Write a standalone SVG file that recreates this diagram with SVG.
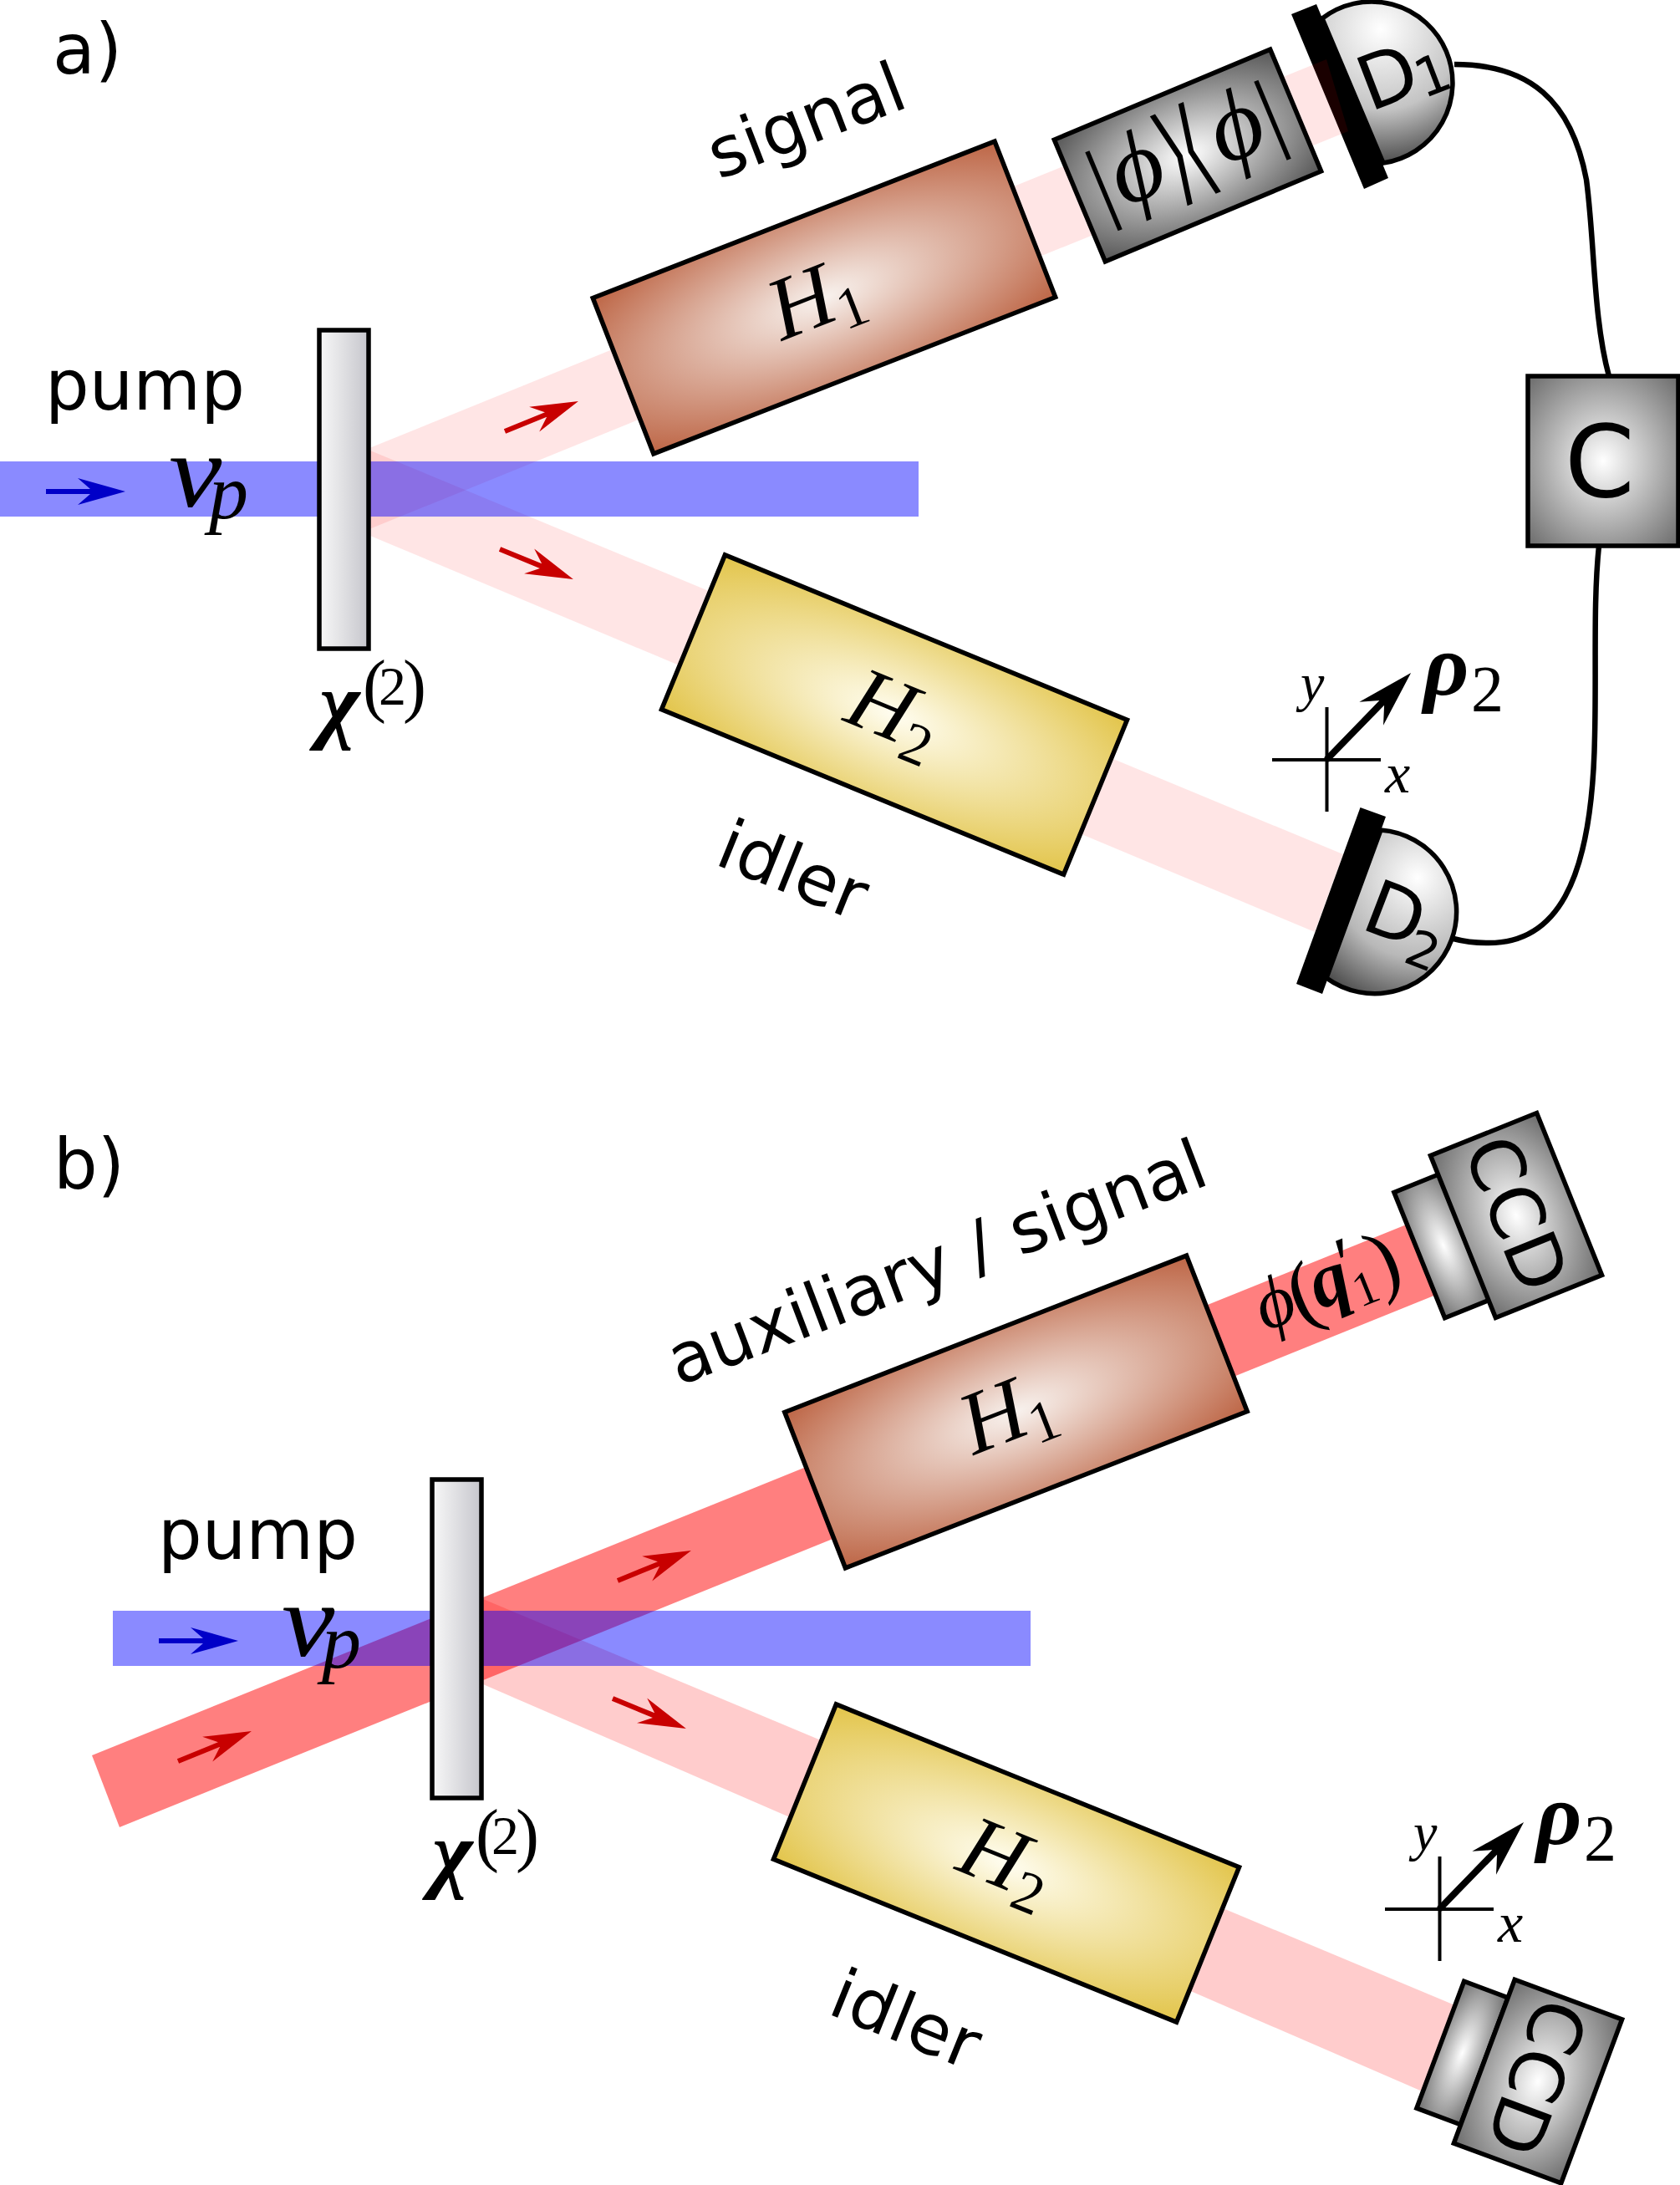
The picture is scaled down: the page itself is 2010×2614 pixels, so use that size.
<svg xmlns="http://www.w3.org/2000/svg" xmlns:xlink="http://www.w3.org/1999/xlink" width="2010" height="2614" viewBox="0 0 2010 2614">
<style>
.sans{font-family:"DejaVu Sans",sans-serif;font-size:83px;fill:#000}
.it{font-family:"Liberation Serif",serif;font-style:italic;fill:#000}
.rm{font-family:"Liberation Serif",serif;fill:#000}
.bi{font-family:"Liberation Serif",serif;font-style:italic;font-weight:bold;fill:#000}
.thin{font-family:"DejaVu Sans",sans-serif;font-weight:200;fill:#000}
.box{stroke:#000;stroke-width:5.5}
.wire{fill:none;stroke:#000;stroke-width:6.500}
.pump{fill:#00f;fill-opacity:.46}
.weak{fill:#f00;fill-opacity:.1}
.mid{fill:#f00;fill-opacity:.2}
.strong{fill:#f00;fill-opacity:.5}
.tick{stroke:#000;stroke-width:4;fill:none}
</style>
<defs>
<radialGradient id="gGray" cx=".5" cy=".5" r=".7071"><stop offset="0" stop-color="#fff"/><stop offset="1" stop-color="#555"/></radialGradient>
<radialGradient id="gLens" cx=".5" cy=".5" r=".7071"><stop offset="0" stop-color="#fff"/><stop offset="1" stop-color="#6a6a6a"/></radialGradient>
<radialGradient id="gH1" cx=".5" cy=".5" r=".7071"><stop offset="0" stop-color="#f8f2ee"/><stop offset="1" stop-color="#bd6545"/></radialGradient>
<radialGradient id="gH2" cx=".5" cy=".5" r=".7071"><stop offset="0" stop-color="#fffdf0"/><stop offset="1" stop-color="#e2c449"/></radialGradient>
<linearGradient id="gXtal" x1="0" x2="1" y1="0" y2="0"><stop offset="0" stop-color="#f8f8f8"/><stop offset="1" stop-color="#c6c6cc"/></linearGradient>
<radialGradient id="gD1" gradientUnits="userSpaceOnUse" cx="1652" cy="35" r="175"><stop offset="0" stop-color="#fff"/><stop offset=".55" stop-color="#c4c4c4"/><stop offset="1" stop-color="#333"/></radialGradient>
<radialGradient id="gD2" gradientUnits="userSpaceOnUse" cx="1696" cy="1050" r="175"><stop offset="0" stop-color="#fff"/><stop offset=".55" stop-color="#b8b8b8"/><stop offset="1" stop-color="#333"/></radialGradient>
<path id="arrow" d="M0,-3 L53,-3 L38,-16 L95,0 L38,16 L53,3 L0,3 Z"/>
<path id="bigArrow" d="M0,-4 L95,-4 L77,-20 L145,0 L77,20 L95,4 L0,4 Z"/>
<!-- shared x/y cross with the rho_2 vector -->
<g id="axes">
<path class="tick" d="M1522,909 H1652 M1587.500,846 V971"/>
<use xlink:href="#bigArrow" href="#bigArrow" transform="translate(1587,909) rotate(-45.800)"/>
<text class="it" font-size="64" x="1556" y="838">y</text>
<text class="it" font-size="68" x="1657" y="948">x</text>
<text class="bi" font-size="106" x="1703" y="831">ρ</text>
<text class="rm" font-size="78" x="1760" y="850">2</text>
</g>
<g id="crystal">
<rect class="box" x="382" y="395" width="59" height="381" fill="url(#gXtal)"/>
<text class="bi" font-size="104" x="382" y="876">χ</text>
<text class="rm" font-size="66" y="843"><tspan x="434" y="848" font-size="84">(</tspan><tspan x="453" y="843">2</tspan><tspan x="482" y="848" font-size="84">)</tspan></text>
</g>
<g id="vp">
<text class="it" font-size="124" transform="translate(202,606) scale(1.15,1)">v</text>
<text class="it" font-size="94" x="250" y="620">p</text>
</g>
</defs>

<!-- panel a: beams -->
<g id="detector-d1-back">
<path class="box" d="M1582,22 A97,97 0 1 1 1655,195 Z" fill="url(#gD1)"/>
<polygon points="1545,17 1575,5 1661,213 1632,226"/>
</g>
<g id="beams-a">
<polygon class="weak" points="442,536 1587,71 1613,157 442,633"/>
<polygon class="weak" points="443,539 1607,1022 1573,1115 443,641"/>
<rect class="pump" x="0" y="552" width="1099" height="66"/>
</g>

<!-- panel b: beams -->
<g id="beams-b">
<polygon class="strong" points="110,2100 1700,1458 1733,1543 143,2186"/>
<polygon class="mid" points="578,1913 1760,2407 1720,2510 578,2015"/>
<rect class="pump" x="135" y="1927" width="1098" height="66"/>
</g>

<!-- wires from the detectors to the coincidence box -->
<g id="connectors">
<path class="wire" d="M1740,77 C1830,77 1880,120 1898,215 C1908,290 1906,380 1925,450"/>
<path class="wire" d="M1913,653 C1906,720 1910,800 1908,880 C1905,1060 1860,1130 1778,1128 C1765,1128 1750,1126 1739,1123"/>
</g>

<g id="direction-arrows">
<use xlink:href="#arrow" href="#arrow" fill="#0000c8" transform="translate(55,588)"/>
<use xlink:href="#arrow" href="#arrow" fill="#c80000" transform="translate(604,516) rotate(-22.200)"/>
<use xlink:href="#arrow" href="#arrow" fill="#c80000" transform="translate(598,657) rotate(22.300)"/>
<use xlink:href="#arrow" href="#arrow" fill="#0000c8" transform="translate(190,1963)"/>
<use xlink:href="#arrow" href="#arrow" fill="#c80000" transform="translate(739,1891) rotate(-22.200)"/>
<use xlink:href="#arrow" href="#arrow" fill="#c80000" transform="translate(733,2032) rotate(22.300)"/>
<use xlink:href="#arrow" href="#arrow" fill="#c80000" transform="translate(213,2107) rotate(-22.200)"/>
</g>

<text class="sans" x="63" y="88">a)</text>
<text class="sans" x="54" y="490">pump</text>
<use id="vp-a" xlink:href="#vp" href="#vp"/>
<use id="crystal-a" xlink:href="#crystal" href="#crystal"/>

<g id="h1-a" transform="translate(986,356) rotate(-21.300)">
<rect class="box" x="-258" y="-100" width="516" height="200" fill="url(#gH1)"/>
<text class="it" font-size="106" x="-66" y="30">H</text>
<text class="rm" font-size="70" x="10" y="46">1</text>
</g>
<text class="sans" transform="translate(860,215) rotate(-21)">signal</text>

<g id="projector" transform="translate(1421,186) rotate(-22.700)">
<rect class="box" x="-140" y="-79" width="280" height="158" fill="url(#gGray)"/>
<g text-anchor="middle">
<text class="rm" font-size="112" x="-109" y="27">|</text>
<text class="it" font-size="120" x="-63" y="28">ϕ</text>
<text class="thin" font-size="90" transform="translate(-14,38) scale(.9,1.45)">⟩</text>
<text class="thin" font-size="90" transform="translate(11,38) scale(.9,1.45)">⟨</text>
<text class="it" font-size="120" x="66" y="28">ϕ</text>
<text class="rm" font-size="112" x="110" y="27">|</text>
</g>
</g>

<g id="d1-label">
<text class="sans" style="font-size:90px" transform="translate(1639,134) rotate(-21)">D</text>
<text class="sans" style="font-size:64px" transform="translate(1703,118) rotate(-21)">1</text>
</g>

<g id="coincidence">
<rect class="box" x="1828" y="450" width="180" height="203" fill="url(#gLens)"/>
<text class="sans" style="font-size:120px" text-anchor="middle" x="1914" y="594">C</text>
</g>

<g id="h2-a" transform="translate(1070,855) rotate(22.300)">
<rect class="box" x="-260" y="-100" width="520" height="200" fill="url(#gH2)"/>
<text class="it" font-size="106" x="-56" y="30">H</text>
<text class="rm" font-size="70" x="20" y="46">2</text>
</g>
<text class="sans" transform="translate(853,1033) rotate(22)">idler</text>

<g id="detector-d2">
<path class="box" d="M1652,993 A98,98 0 1 1 1587,1170 Z" fill="url(#gD2)"/>
<polygon points="1627.500,966 1658,977 1582,1189 1551,1177"/>
<text class="sans" style="font-size:90px" transform="translate(1626,1110) rotate(21)">D</text>
<text class="sans" style="font-size:60px" transform="translate(1677,1150) rotate(21)">2</text>
</g>

<use id="axes-a" xlink:href="#axes" href="#axes"/>

<!-- panel b: nodes -->
<text class="sans" x="64" y="1422">b)</text>
<text class="sans" x="189" y="1865">pump</text>
<use id="vp-b" xlink:href="#vp" href="#vp" transform="translate(135,1375)"/>
<use id="crystal-b" xlink:href="#crystal" href="#crystal" transform="translate(135,1375)"/>

<g id="h1-b" transform="translate(1215.500,1689) rotate(-21.300)">
<rect class="box" x="-258" y="-100" width="516" height="200" fill="url(#gH1)"/>
<text class="it" font-size="106" x="-66" y="30">H</text>
<text class="rm" font-size="70" x="10" y="46">1</text>
</g>
<text class="sans" transform="translate(812,1658) rotate(-20.800)">auxiliary / signal</text>

<g id="phi-label" transform="translate(1514,1593) rotate(-22)">
<text class="it" font-size="88" x="0" y="0">ϕ</text>
<text class="rm" font-size="100" x="42" y="6">(</text>
<text class="bi" font-size="92" x="70" y="0">q</text>
<text class="rm" font-size="90" x="112" y="-10">′</text>
<text class="rm" font-size="58" x="116" y="16">1</text>
<text class="rm" font-size="100" x="146" y="6">)</text>
</g>

<g id="ccd-1">
<rect class="box" transform="translate(1727,1490) rotate(-22)" x="-31" y="-81" width="62" height="162" fill="url(#gLens)"/>
<rect class="box" transform="translate(1814,1454) rotate(-21.900)" x="-68.500" y="-104.500" width="137" height="209" fill="url(#gLens)"/>
<text class="sans" style="font-size:88px" text-anchor="middle" dominant-baseline="central" transform="translate(1814,1452) rotate(68)">CCD</text>
</g>

<g id="h2-b" transform="translate(1204,2229) rotate(22)">
<rect class="box" x="-260" y="-100" width="520" height="200" fill="url(#gH2)"/>
<text class="it" font-size="106" x="-56" y="30">H</text>
<text class="rm" font-size="70" x="20" y="46">2</text>
</g>
<text class="sans" transform="translate(988,2408) rotate(22)">idler</text>

<g id="ccd-2">
<rect class="box" transform="translate(1749.500,2456) rotate(20.500)" x="-28" y="-81" width="56" height="162" fill="url(#gLens)"/>
<rect class="box" transform="translate(1840,2490) rotate(20.400)" x="-68.500" y="-104.500" width="137" height="209" fill="url(#gLens)"/>
<text class="sans" style="font-size:88px" text-anchor="middle" dominant-baseline="central" transform="translate(1838,2485) rotate(110.500)">CCD</text>
</g>

<use id="axes-b" xlink:href="#axes" href="#axes" transform="translate(135,1375)"/>
</svg>
